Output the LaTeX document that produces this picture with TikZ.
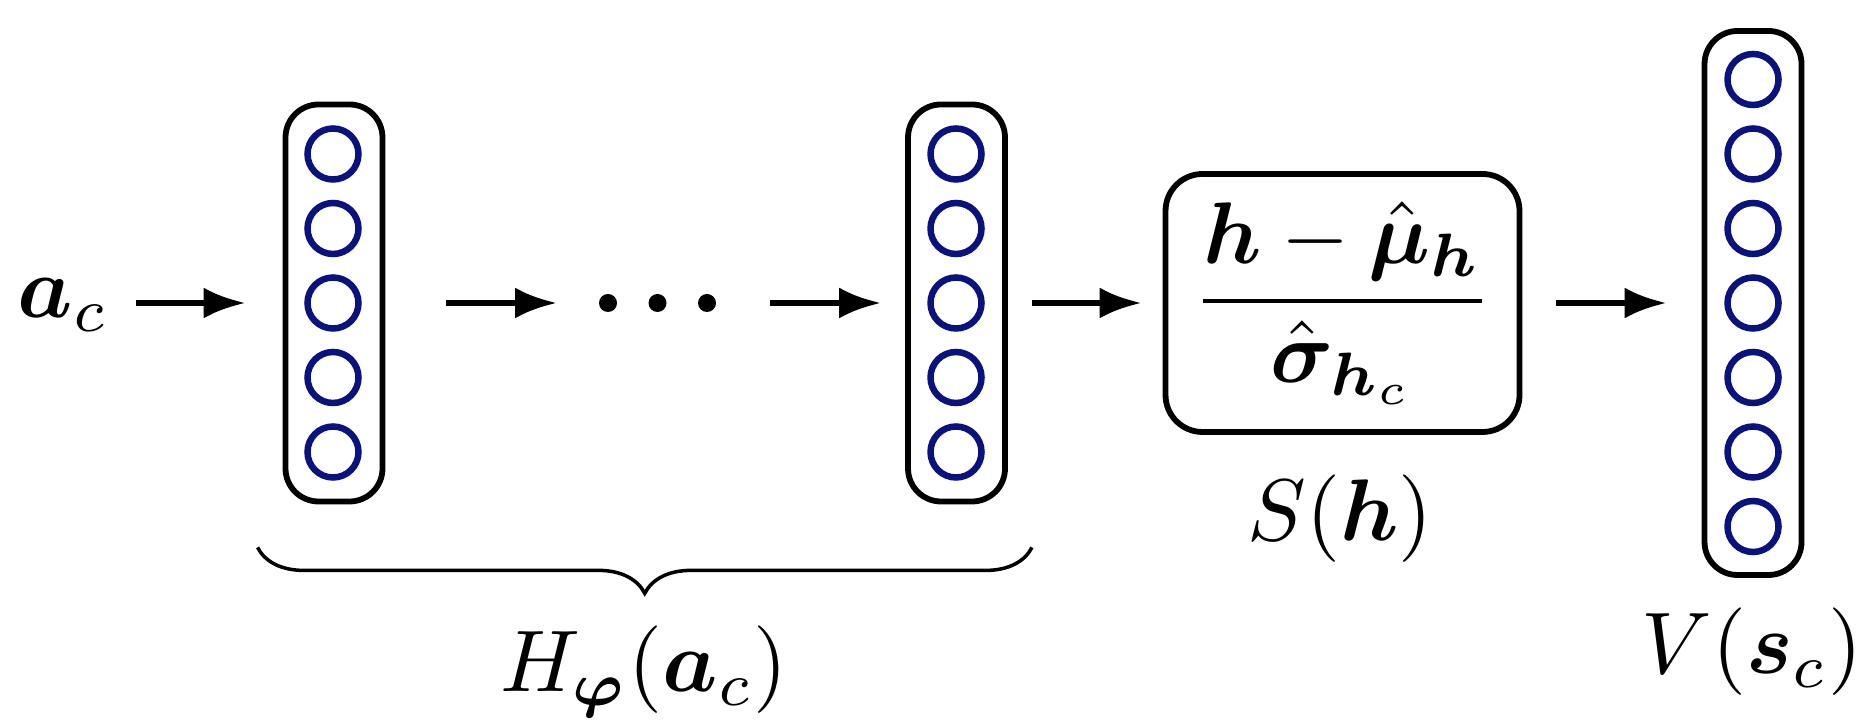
\documentclass[tikz,border=0pt]{standalone}
\usepackage{amsmath,amssymb}
\usepackage{bm}
\usepackage{graphicx}
\usepackage{tikz}
\usetikzlibrary{arrows.meta,positioning,calc}
\usetikzlibrary{decorations.pathreplacing}
\definecolor{nrnblue}{RGB}{10,18,125}
\newcommand{\lbl}[1]{\scalebox{2.49}{$#1$}}

\begin{document}
\begin{tikzpicture}[>={Latex[length=4.2mm,width=3.1mm]},
    layer/.style={draw, line width=0.058cm, rounded corners=0.33cm, minimum width=0.97cm, inner sep=0},
    neuron/.style={circle, draw=nrnblue, line width=0.065cm, minimum size=0.51cm, inner sep=0},
    arr/.style={->, line width=0.065cm}]
    \useasboundingbox (0,0) rectangle (18.6,7.28);
    \node[anchor=base west, inner sep=0] (ac) at (0.17,4.10) {\lbl{\bm{a}_c}};
    \node[layer, minimum height=3.97cm] (L1) at (3.34,4.25) {};
    \node[layer, minimum height=3.97cm] (L2) at (9.565,4.25) {};
    \node[layer, minimum height=5.44cm] (out) at (17.53,4.25) {};
    \foreach \i in {-2,...,2} {
        \node[neuron] at (3.33,4.25+0.745*\i) {};
        \node[neuron] at (9.56,4.25+0.745*\i) {};
    }
    \foreach \i in {-3,...,3}
        \node[neuron] at (17.53,4.25+0.745*\i) {};
    \node[inner sep=0, outer sep=0, minimum width=1.17cm, minimum height=0.18cm] (dots) at (6.575,4.25) {};
    \foreach \i in {-1,0,1}
        \fill ($(dots)+(0.495*\i,0)$) circle[radius=0.09];
    \node[draw, line width=0.058cm, rounded corners=0.37cm, minimum width=3.54cm, minimum height=2.58cm, inner sep=0] (norm) at (13.425,4.25)
        {\lbl{\dfrac{\bm{h}-\hat{\bm{\mu}}_{\bm{h}}}{\hat{\bm{\sigma}}_{\bm{h}_c}}}};
    \draw[arr, shorten <=0.27cm, shorten >=0.37cm] (ac.east |- L1) -- (L1.west);
    \draw[arr, shorten <=0.61cm, shorten >=0.42cm] (L1) -- (dots);
    \draw[arr, shorten <=0.54cm, shorten >=0.24cm] (dots) -- (L2);
    \draw[arr, shorten <=0.24cm, shorten >=0.21cm] (L2) -- (norm);
    \draw[arr, shorten <=0.34cm, shorten >=0.35cm] (norm) -- (out);
    \draw[line width=1pt, decorate, decoration={brace, mirror, amplitude=0.46cm}]
        ([shift={(-0.25,-0.43)}]L1.south west) -- ([shift={(0.24,-0.43)}]L2.south east);
    \node[anchor=base] (hlbl) at (6.44,0.36) {\lbl{H_{\bm{\varphi}}(\bm{a}_c)}};
    \node[anchor=base] (slbl) at (13.40,1.87) {\lbl{S(\bm{h})}};
    \node[anchor=base] (vlbl) at (17.52,0.54) {\lbl{V(\bm{s}_c)}};
\end{tikzpicture}
\end{document}
